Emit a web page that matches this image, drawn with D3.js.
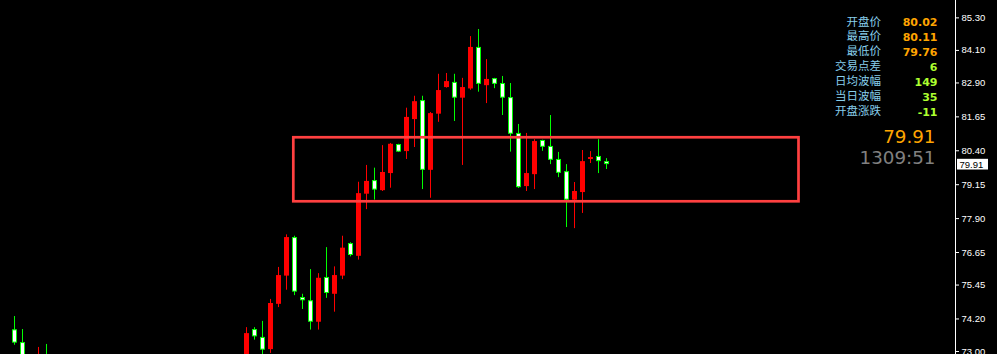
<!DOCTYPE html>
<html lang="zh">
<head>
<meta charset="UTF-8">
<title>K线</title>
<script src="https://cdn.jsdelivr.net/npm/d3@7/dist/d3.min.js"></script>
<style>
    html, body { margin: 0; padding: 0; background: #000; }
    svg { display: block; }
</style>
</head>
<body>
<svg width="997" height="354"></svg>
<script>
// bar slot index (8px per slot), only bars that show in the window
var slots  = [1, 2, 4, 5, 30, 31, 32, 33, 34, 35, 36, 37, 38, 39, 40, 41, 42, 43, 44, 45, 46, 47, 48, 49, 50, 51, 52, 53,
              54, 55, 56, 57, 58, 59, 60, 61, 62, 63, 64, 65, 66, 67, 68, 69, 70, 71, 72, 73, 74, 75];
var opens  = [73.80, 73.33, 72.40, 72.85, 72.60, 73.81, 73.52, 73.07, 74.74, 75.78, 77.20, 74.99, 74.87, 74.08, 75.73, 75.11,
              75.78, 76.98, 76.51, 78.80, 79.30, 78.93, 79.56, 80.63, 80.37, 81.55, 82.25, 79.68, 81.75, 82.73, 82.92, 82.34,
              82.68, 84.21, 82.80, 83.06, 82.88, 82.36, 81.04, 79.08, 79.52, 80.78, 80.56, 80.08, 79.63, 78.58, 78.86, 80.08,
              80.19, 80.00];
var highs  = [74.29, 73.81, 73.15, 73.26, 73.88, 73.88, 74.11, 74.92, 76.10, 77.30, 77.25, 75.11, 76.02, 75.87, 76.83, 76.12,
              77.25, 77.01, 79.24, 79.86, 79.76, 80.59, 80.67, 80.64, 81.97, 82.41, 82.41, 81.81, 83.22, 83.25, 83.22, 83.07,
              84.61, 84.87, 83.76, 83.07, 83.14, 82.88, 81.37, 81.04, 80.81, 80.79, 81.70, 80.34, 79.89, 79.23, 80.41, 80.37,
              80.81, 80.11];
var lows   = [73.23, 72.55, 72.30, 72.40, 72.50, 73.42, 72.85, 72.93, 74.62, 75.26, 75.06, 74.55, 73.79, 73.79, 74.96, 74.45,
              75.65, 76.49, 76.37, 78.23, 78.58, 78.90, 79.02, 80.34, 80.08, 80.52, 78.97, 78.65, 81.45, 82.71, 81.48, 79.86,
              82.63, 82.56, 82.14, 82.69, 81.70, 80.35, 79.01, 78.90, 78.97, 80.38, 79.89, 79.41, 77.57, 77.53, 78.09, 79.93,
              79.56, 79.71];
var closes = [73.31, 72.70, 72.80, 72.50, 73.66, 73.54, 73.05, 74.77, 75.80, 77.20, 75.19, 74.87, 74.08, 75.70, 75.14, 75.80,
              76.81, 76.54, 78.82, 79.27, 78.95, 79.60, 80.64, 80.35, 81.63, 82.21, 79.68, 81.77, 82.62, 82.95, 82.34, 82.73,
              84.21, 82.85, 83.03, 82.85, 82.34, 81.01, 79.04, 79.56, 80.74, 80.53, 80.05, 79.57, 78.58, 78.90, 80.00, 80.15,
              80.00, 79.89];

var priceTicks = [85.30, 84.10, 82.90, 81.65, 80.40, 79.15, 77.90, 76.65, 75.45, 74.20, 73.00];

var infoLabels = ["开盘价", "最高价", "最低价", "交易点差", "日均波幅", "当日波幅", "开盘涨跌"];
var infoValues = ["80.02", "80.11", "79.76", "6", "149", "35", "-11"];
var bidText = "79.91";
var timerText = "1309:51";

// marked zone: slot range and price range
var zoneSlots = [35.85, 99];
var zonePrices = [78.52, 80.88];

var svg = d3.select("svg"),
    width = +svg.attr("width"),
    height = +svg.attr("height");

svg.append("rect").attr("width", width).attr("height", height).attr("fill", "#000");

var x = d3.scaleLinear().domain([0, 1]).range([6.5, 14.5]);
var y = d3.scaleLinear().domain([72.89, 85.94]).range([height, 0]);

var bars = slots.map(function (s, i) {
    return {slot: s, o: opens[i], h: highs[i], l: lows[i], c: closes[i], up: closes[i] >= opens[i]};
});

var plot = svg.append("g");

// wicks
plot.selectAll(".wick")
    .data(bars)
    .enter().append("line")
    .attr("class", "wick")
    .attr("x1", function (d) { return x(d.slot); })
    .attr("x2", function (d) { return x(d.slot); })
    .attr("y1", function (d) { return y(d.h); })
    .attr("y2", function (d) { return y(d.l); })
    .attr("stroke", function (d) { return d.up ? "#ff0000" : "#00ff00"; })
    .attr("stroke-width", 1);

// bodies
plot.selectAll(".body")
    .data(bars)
    .enter().append("rect")
    .attr("class", "body")
    .attr("x", function (d) { return d.up ? x(d.slot) - 2.5 : x(d.slot) - 2; })
    .attr("width", function (d) { return d.up ? 5 : 4; })
    .attr("y", function (d) {
        var t = y(Math.max(d.o, d.c));
        return d.up ? t : t + 0.5;
    })
    .attr("height", function (d) {
        var hgt = Math.abs(y(d.o) - y(d.c));
        return d.up ? Math.max(hgt, 1) : Math.max(hgt - 1, 1);
    })
    .attr("fill", function (d) { return d.up ? "#ff0000" : "#ffffff"; })
    .attr("stroke", function (d) { return d.up ? "none" : "#00ff00"; })
    .attr("stroke-width", 1);

// zone rectangle (drawn over the bars)
svg.append("rect")
    .attr("x", x(zoneSlots[0]))
    .attr("y", y(zonePrices[1]))
    .attr("width", x(zoneSlots[1]) - x(zoneSlots[0]))
    .attr("height", y(zonePrices[0]) - y(zonePrices[1]))
    .attr("fill", "none")
    .attr("stroke", "#ff4040")
    .attr("stroke-width", 2.7);

// price axis
var axisX = 955.5;
svg.append("line")
    .attr("x1", axisX).attr("x2", axisX)
    .attr("y1", 0).attr("y2", height)
    .attr("stroke", "#ffffff").attr("stroke-width", 1);

var axis = svg.append("g")
    .attr("transform", "translate(" + axisX + ",0)")
    .call(d3.axisRight(y).tickValues(priceTicks).tickSize(3.5).tickPadding(2.5)
        .tickFormat(d3.format(".2f")));
axis.select(".domain").remove();
axis.selectAll(".tick line").attr("stroke", "#ffffff");
axis.selectAll(".tick text")
    .attr("fill", "#ffffff")
    .style("font-family", "'Liberation Sans', Arial, sans-serif")
    .style("font-size", "9.5px");

// current price tag
var last = bars[bars.length - 1];
var tagY = y(last.c);
svg.append("rect")
    .attr("x", 957).attr("y", tagY - 5.3)
    .attr("width", 31).attr("height", 10.7)
    .attr("fill", "#ffffff");
svg.append("text")
    .attr("x", 959.5).attr("y", tagY + 3.5)
    .attr("fill", "#000000")
    .style("font-family", "'Liberation Sans', Arial, sans-serif")
    .style("font-size", "9.5px")
    .text(bidText);

// info panel
var info = svg.append("g");
info.selectAll(".lbl")
    .data(infoLabels)
    .enter().append("text")
    .attr("x", 881)
    .attr("y", function (d, i) { return 25.5 + i * 14.95; })
    .attr("text-anchor", "end")
    .attr("fill", "#87ceeb")
    .style("font-family", "'Noto Sans CJK SC', sans-serif")
    .style("font-size", "11.5px")
    .text(function (d) { return d; });

info.selectAll(".val")
    .data(infoValues)
    .enter().append("text")
    .attr("x", 937.5)
    .attr("y", function (d, i) { return 26 + i * 14.95; })
    .attr("text-anchor", "end")
    .attr("fill", function (d, i) { return i < 3 ? "#ffa500" : "#adff2f"; })
    .style("font-family", "'DejaVu Sans', sans-serif")
    .style("font-weight", "bold")
    .style("font-size", "11px")
    .text(function (d) { return d; });

svg.append("text")
    .attr("x", 935.5).attr("y", 143.3)
    .attr("text-anchor", "end")
    .attr("fill", "#ffa500")
    .style("font-family", "'DejaVu Sans', sans-serif")
    .style("font-size", "18.3px")
    .text(bidText);

svg.append("text")
    .attr("x", 935.5).attr("y", 164)
    .attr("text-anchor", "end")
    .attr("fill", "#808080")
    .style("font-family", "'DejaVu Sans', sans-serif")
    .style("font-size", "18.3px")
    .text(timerText);
</script>
</body>
</html>
